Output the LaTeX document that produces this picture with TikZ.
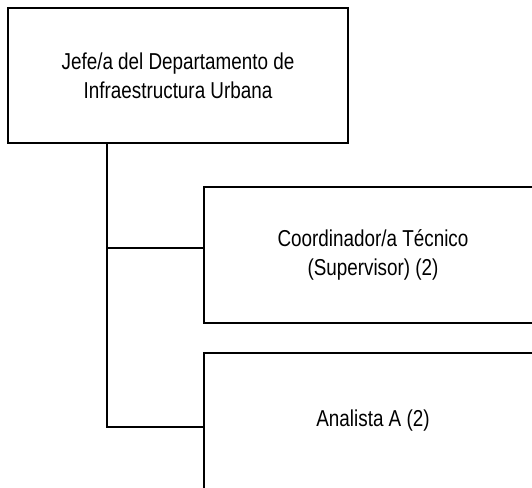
\documentclass[tikz,border=0pt]{standalone}
\usepackage{fontspec}
\setmainfont{Liberation Sans}[FakeStretch=0.82]
\usetikzlibrary{calc}
\begin{document}
\begin{tikzpicture}[x=1pt,y=1pt,
  orgbox/.style={draw=black, line width=2pt, align=center, inner sep=0pt,
    font=\fontsize{23}{29}\selectfont, text=black},
  link/.style={draw=black, line width=1.6pt}]
\clip (0,0) rectangle (532,-487);
\fill[white] (0,0) rectangle (532,-487);
\node[orgbox, minimum width=340, minimum height=135] (jefe) at (178,-75.5)
  {Jefe/a del Departamento de\\Infraestructura Urbana};
\node[orgbox, minimum width=338, minimum height=136] (coord) at (373,-255)
  {Coordinador/a Técnico\\(Supervisor) (2)};
\node[orgbox, minimum width=338, minimum height=136] (anal) at (373,-421)
  {Analista A (2)};
\coordinate (trunk) at (107,0);
\draw[link] (jefe.south -| trunk) |- ([yshift=7pt]coord.west);
\draw[link] (jefe.south -| trunk) |- ([yshift=-6pt]anal.west);
\end{tikzpicture}
\end{document}
